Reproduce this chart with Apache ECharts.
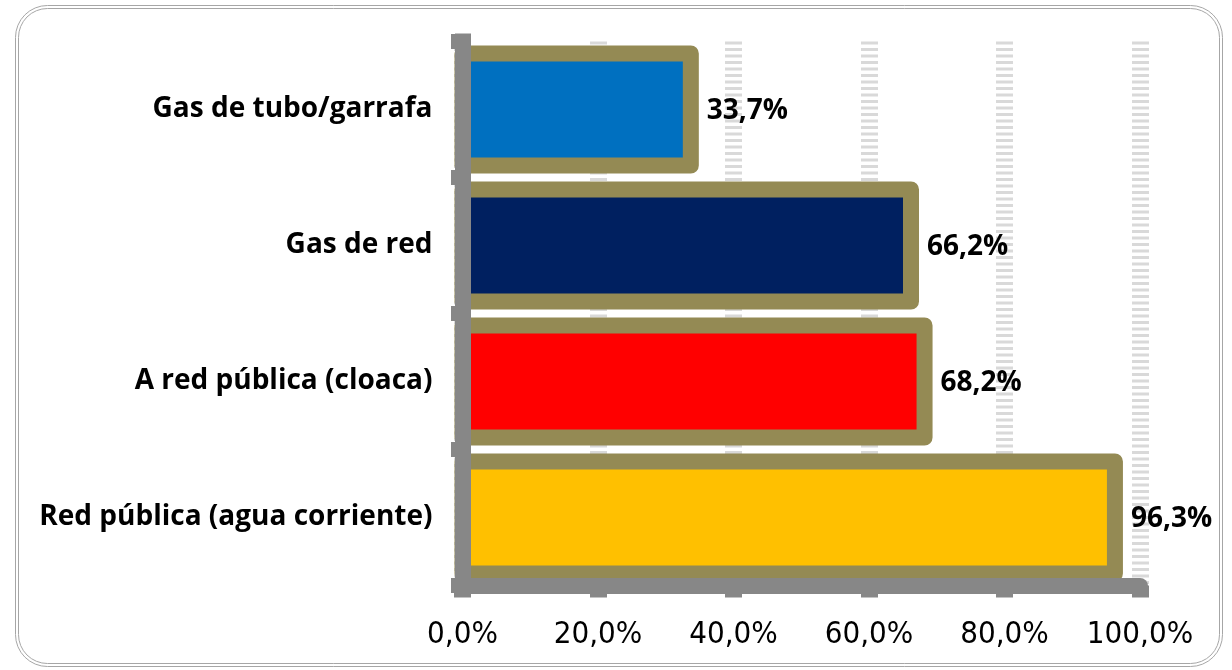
<!DOCTYPE html>
<html>
<head>
<meta charset="utf-8">
<script src="https://cdn.jsdelivr.net/npm/echarts@6/dist/echarts.min.js"></script>
<style>
  html, body { margin: 0; padding: 0; background: #fff; }
  #chart { width: 1232px; height: 670px; }
</style>
</head>
<body>
<div id="chart"></div>
<script>
// categories bottom to top (category axis starts at the bottom)
const categories = ['Red pública (agua corriente)', 'A red pública (cloaca)', 'Gas de red', 'Gas de tubo/garrafa'];
const values = [96.3, 68.2, 66.2, 33.7];
const barColors = ['#FFC000', '#FF0000', '#002060', '#0070C0'];
const xTicks = [0, 20, 40, 60, 80, 100];

const fmt = v => v.toFixed(1).replace('.', ',') + '%';

// bar with the border centred on the value edge, like the original
function renderBar(params, api) {
  const cat = api.value(1);
  const val = api.value(0);
  const start = api.coord([0, cat]);
  const end = api.coord([val, cat]);
  const h = api.size([0, 1])[1] * 0.8235;
  return {
    type: 'group',
    children: [
      {
        type: 'rect',
        shape: { x: start[0], y: start[1] - h / 2, width: end[0] - start[0], height: h },
        style: { fill: barColors[params.dataIndex], stroke: '#948A54', lineWidth: 16, lineJoin: 'round' }
      },
      {
        type: 'text',
        style: {
          text: fmt(val),
          x: end[0] + 16,
          y: end[1] + 2,
          fill: '#000',
          font: 'bold 28px "Open Sans"',
          align: 'left',
          verticalAlign: 'middle'
        }
      }
    ]
  };
}

let myChart = echarts.init(document.getElementById('chart'));
myChart.setOption({
  animation: false,
  grid: { left: 462.5, right: 92, top: 41.5, bottom: 84.5 },
  graphic: [
    { type: 'rect', shape: { x: 15.5, y: 5.5, width: 1207, height: 661, r: 32 },
      style: { fill: 'none', stroke: '#a6a6a6', lineWidth: 1 }, silent: true },
    { type: 'rect', shape: { x: 18.5, y: 8.5, width: 1201, height: 655, r: 29 },
      style: { fill: 'none', stroke: '#a6a6a6', lineWidth: 1 }, silent: true }
  ],
  xAxis: [
    {
      // gridlines only, under the bars
      type: 'value', min: 0, max: 100, interval: 20, z: 0,
      axisLine: { show: false }, axisTick: { show: false }, axisLabel: { show: false },
      splitLine: {
        show: true,
        lineStyle: { color: '#d9d9d9', width: 17, type: [3, 3.5] }
      }
    },
    {
      // axis line, ticks and labels, over the bars
      type: 'value', min: 0, max: 100, interval: 20, z: 10,
      position: 'bottom',
      splitLine: { show: false },
      axisLine: { show: true, onZero: false, lineStyle: { color: '#878787', width: 16 } },
      axisTick: { show: true, length: 12, lineStyle: { color: '#878787', width: 17 } },
      axisLabel: {
        margin: 34,
        color: '#000',
        fontFamily: '"DejaVu Sans Condensed", "Liberation Sans"',
        fontSize: 31,
        formatter: v => xTicks.indexOf(v) >= 0 ? fmt(v) : ''
      }
    }
  ],
  yAxis: {
    type: 'category',
    data: categories,
    z: 10,
    axisLine: { show: true, lineStyle: { color: '#878787', width: 16, cap: 'square' } },
    axisTick: { show: true, length: 11.5, lineStyle: { color: '#878787', width: 15 } },
    axisLabel: {
      margin: 30,
      color: '#000',
      fontFamily: '"Open Sans"',
      fontWeight: 'bold',
      fontSize: 28
    }
  },
  series: [
    {
      type: 'custom',
      xAxisIndex: 0,
      clip: false,
      z: 2,
      renderItem: renderBar,
      encode: { x: 0, y: 1 },
      data: values.map((v, i) => [v, i])
    }
  ]
});
</script>
</body>
</html>
